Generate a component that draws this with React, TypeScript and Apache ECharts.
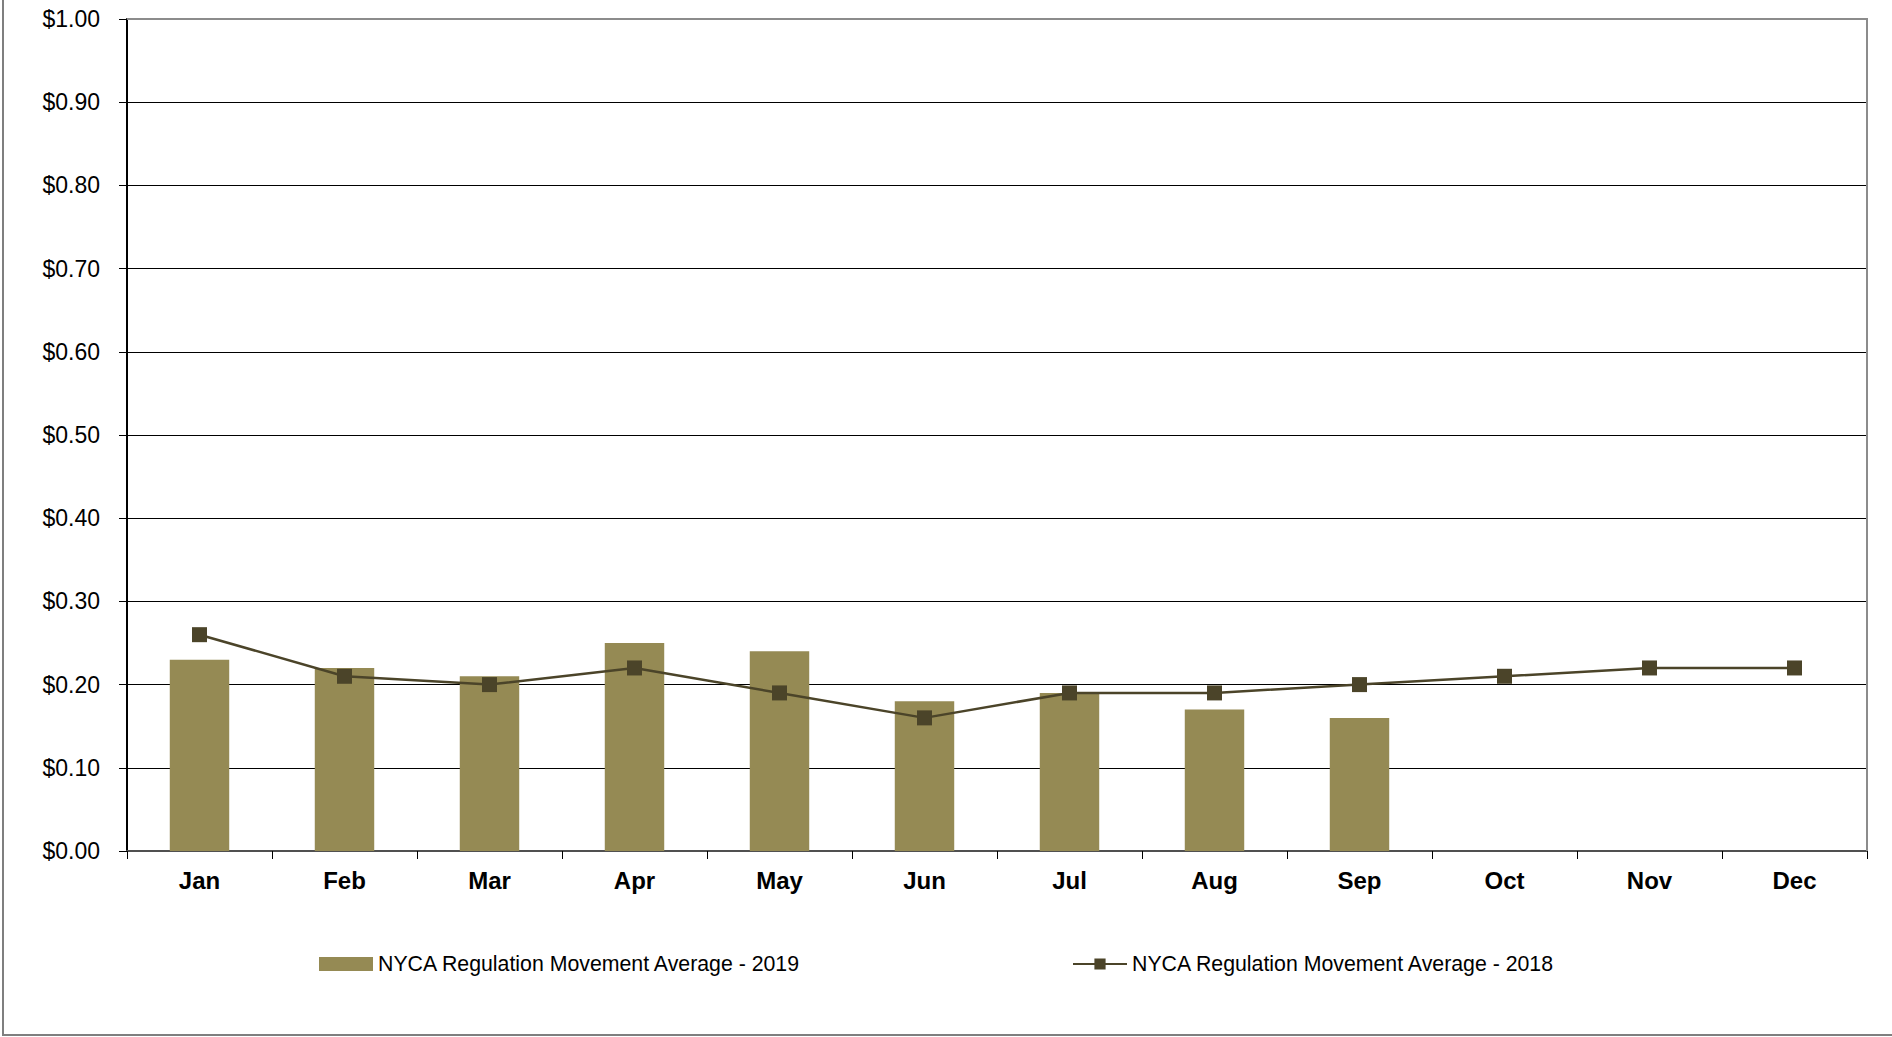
import React, { useEffect, useRef } from "react";
import * as echarts from "echarts";

const months = ["Jan", "Feb", "Mar", "Apr", "May", "Jun", "Jul", "Aug", "Sep", "Oct", "Nov", "Dec"];
const avg2019 = [0.23, 0.22, 0.21, 0.25, 0.24, 0.18, 0.19, 0.17, 0.16, null, null, null];
const avg2018 = [0.26, 0.21, 0.2, 0.22, 0.19, 0.16, 0.19, 0.19, 0.2, 0.21, 0.22, 0.22];
const name2019 = "NYCA Regulation Movement Average - 2019";
const name2018 = "NYCA Regulation Movement Average - 2018";

const W = 1892;
const H = 1037;
const G = { left: 127, right: 25, top: 19, bottom: 186 };
const FONT = "'Liberation Sans', Arial, sans-serif";

export default function App() {
  const ref = useRef<HTMLDivElement>(null);
  useEffect(() => {
    if (!ref.current) return;
    const chart = echarts.init(ref.current, null, { renderer: "svg" });
    const gx2 = W - G.right;
    const gy2 = H - G.bottom;
    chart.setOption({
      animation: false,
      backgroundColor: "#ffffff",
      textStyle: { fontFamily: FONT },
      grid: { left: G.left, right: G.right, top: G.top, bottom: G.bottom, containLabel: false },
      legend: [
        {
          data: [name2019],
          left: 319,
          top: 952,
          padding: 0,
          itemWidth: 54,
          itemHeight: 14,
          icon: "rect",
          textStyle: { fontFamily: FONT, fontSize: 21.3, color: "#000", lineHeight: 24 },
        },
        {
          data: [name2018],
          left: 1072,
          top: 952,
          padding: 0,
          itemWidth: 54,
          itemHeight: 14,
          textStyle: { fontFamily: FONT, fontSize: 21.3, color: "#000", lineHeight: 24 },
        },
      ],
      xAxis: {
        type: "category",
        data: months,
        boundaryGap: true,
        axisLine: { show: true, lineStyle: { color: "#505050", width: 2 } },
        axisTick: { show: true, length: 8, lineStyle: { color: "#000", width: 1 } },
        axisLabel: {
          fontFamily: FONT,
          fontSize: 24,
          fontWeight: "bold",
          color: "#000",
          margin: 17,
        },
        splitLine: { show: false },
      },
      yAxis: {
        type: "value",
        min: 0,
        max: 1,
        interval: 0.1,
        axisLine: { show: true, lineStyle: { color: "#000", width: 2 } },
        axisTick: { show: true, length: 8, lineStyle: { color: "#000", width: 1 } },
        axisLabel: {
          fontFamily: FONT,
          fontSize: 23,
          color: "#000",
          margin: 27,
          formatter: (v: number) => "$" + v.toFixed(2),
        },
        splitLine: { show: true, lineStyle: { color: "#000", width: 1 } },
      },
      series: [
        {
          name: name2019,
          type: "bar",
          data: avg2019,
          barWidth: "41%",
          itemStyle: { color: "#958A54" },
          z: 2,
        },
        {
          name: name2018,
          type: "line",
          data: avg2018,
          symbol: "rect",
          symbolSize: 15,
          lineStyle: { color: "#4B4429", width: 2.5 },
          itemStyle: { color: "#4B4429" },
          z: 3,
        },
      ],
      graphic: [
        {
          type: "line",
          z: 100,
          shape: { x1: G.left, y1: G.top, x2: gx2 + 1, y2: G.top },
          style: { stroke: "#8c8c8c", lineWidth: 2 },
        },
        {
          type: "line",
          z: 100,
          shape: { x1: gx2, y1: G.top, x2: gx2, y2: gy2 },
          style: { stroke: "#8c8c8c", lineWidth: 2 },
        },
        {
          type: "line",
          z: 100,
          shape: { x1: 3, y1: 0, x2: 3, y2: 1035 },
          style: { stroke: "#7f7f7f", lineWidth: 2 },
        },
        {
          type: "line",
          z: 100,
          shape: { x1: 2, y1: 1035, x2: W, y2: 1035 },
          style: { stroke: "#7f7f7f", lineWidth: 2 },
        },
      ],
    });
    return () => chart.dispose();
  }, []);
  return (
    <div
      ref={ref}
      style={{ position: "fixed", left: 0, top: 0, width: W, height: H, background: "#fff" }}
    />
  );
}
